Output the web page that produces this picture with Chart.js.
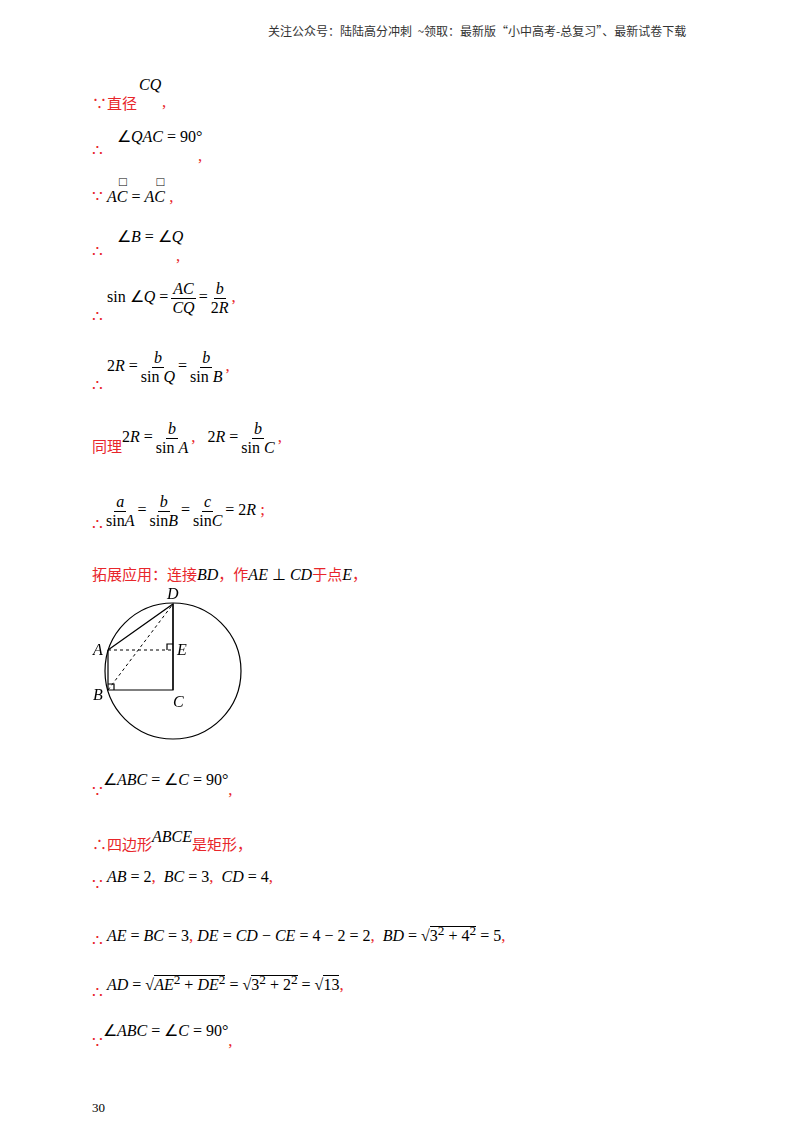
<!DOCTYPE html><html><head><meta charset="utf-8">
<script src="https://cdn.jsdelivr.net/npm/chart.js@4"></script>
<style>
body{margin:0;width:800px;height:1132px;position:relative;background:#fff;font-family:"Liberation Serif",serif;color:#000}
.a{position:absolute;white-space:nowrap;font-size:16px}
.r{color:#e8262b;font-family:"Noto Sans CJK SC";font-size:15px}
i{font-style:italic}
.f{display:inline-flex;flex-direction:column;align-items:center;vertical-align:middle;margin:0 3px}
.f span:first-child{border-bottom:1px solid #000;padding:0 2px}
.hdr{position:absolute;top:22px;left:268px;font-family:"Noto Sans CJK SC";font-size:12px;color:#333}
.t{color:#e8262b;font-size:17px}
</style></head><body>
<div class="hdr">关注公众号：陆陆高分冲刺 &nbsp;~领取：最新版“小中高考-总复习”、最新试卷下载</div>
<div class="a" style="left:92px;top:92px"><span class="r">∵直径</span></div>
<div class="a" style="left:139px;top:76px"><i>CQ</i></div><div class="a t" style="left:162px;top:92px">,</div>
<div class="a" style="left:92px;top:140px"><span class="t">∴</span></div>
<div class="a" style="left:117px;top:127px">∠<i>QAC</i> = 90°</div><div class="a t" style="left:198px;top:146px">,</div>
<div class="a" style="left:92px;top:186px"><span class="t">∵</span> <span style="position:relative"><span style="position:absolute;left:12px;top:-14px;font-size:13px">□</span><i>AC</i></span> = <span style="position:relative"><span style="position:absolute;left:12px;top:-14px;font-size:13px">□</span><i>AC</i></span><span class="t"> ,</span></div>
<div class="a" style="left:92px;top:241px"><span class="t">∴</span></div>
<div class="a" style="left:117px;top:227px">∠<i>B</i> = ∠<i>Q</i></div><div class="a t" style="left:176px;top:246px">,</div>
<div class="a" style="left:92px;top:280px"><span class="t" style="position:relative;top:20px">∴</span> sin ∠<i>Q</i> =<span class="f"><span><i>AC</i></span><span><i>CQ</i></span></span>=<span class="f"><span><i>b</i></span><span>2<i>R</i></span></span><span class="t">,</span></div>
<div class="a" style="left:92px;top:349px"><span class="t" style="position:relative;top:20px">∴</span> 2<i>R</i> =<span class="f"><span><i>b</i></span><span>sin <i>Q</i></span></span>=<span class="f"><span><i>b</i></span><span>sin <i>B</i></span></span><span class="t">,</span></div>
<div class="a" style="left:92px;top:420px"><span class="r" style="position:relative;top:10px">同理</span>2<i>R</i> =<span class="f"><span><i>b</i></span><span>sin <i>A</i></span></span><span class="t">,</span> &nbsp; 2<i>R</i> =<span class="f"><span><i>b</i></span><span>sin <i>C</i></span></span><span class="t">,</span></div>
<div class="a" style="left:92px;top:493px"><span class="t" style="position:relative;top:15px">∴</span><span class="f"><span><i>a</i></span><span>sin<i>A</i></span></span>=<span class="f"><span><i>b</i></span><span>sin<i>B</i></span></span>=<span class="f"><span><i>c</i></span><span>sin<i>C</i></span></span>= 2<i>R</i> <span class="t">;</span></div>
<div class="a" style="left:92px;top:563px"><span class="r">拓展应用：连接</span><i>BD</i><span class="r">，作</span><i>AE</i> ⊥ <i>CD</i><span class="r">于点</span><i>E</i><span class="r">，</span></div>
<canvas id="c" width="160" height="160" style="position:absolute;left:90px;top:590px;width:160px;height:160px"></canvas>
<div class="a" style="left:167px;top:585px"><i>D</i></div>
<div class="a" style="left:93px;top:641px"><i>A</i></div>
<div class="a" style="left:177px;top:641px"><i>E</i></div>
<div class="a" style="left:93px;top:686px"><i>B</i></div>
<div class="a" style="left:173px;top:693px"><i>C</i></div>
<div class="a" style="left:92px;top:769px"><span class="t" style="position:relative;top:12px">∵</span>∠<i>ABC</i> = ∠<i>C</i> = 90°<span class="t" style="position:relative;top:10px">,</span></div>
<div class="a" style="left:92px;top:825px"><span class="r" style="position:relative;top:8px">∴四边形</span><i>ABCE</i><span class="r" style="position:relative;top:8px">是矩形，</span></div>
<div class="a" style="left:92px;top:866px"><span class="t" style="position:relative;top:8px">∵</span> <i>AB</i> = 2<span class="t">,</span> &nbsp;<i>BC</i> = 3<span class="t">,</span> &nbsp;<i>CD</i> = 4<span class="t">,</span></div>
<div class="a" style="left:92px;top:923px"><span class="t" style="position:relative;top:5px">∴</span> <i>AE</i> = <i>BC</i> = 3<span class="t">,</span> <i>DE</i> = <i>CD</i> − <i>CE</i> = 4 − 2 = 2<span class="t">,</span> &nbsp;<i>BD</i> = √<span style="border-top:1px solid #000">3<sup>2</sup> + 4<sup>2</sup></span> = 5<span class="t">,</span></div>
<div class="a" style="left:92px;top:972px"><span class="t" style="position:relative;top:8px">∴</span> <i>AD</i> = √<span style="border-top:1px solid #000"><i>AE</i><sup>2</sup> + <i>DE</i><sup>2</sup></span> = √<span style="border-top:1px solid #000">3<sup>2</sup> + 2<sup>2</sup></span> = √<span style="border-top:1px solid #000">13</span><span class="t">,</span></div>
<div class="a" style="left:92px;top:1020px"><span class="t" style="position:relative;top:12px">∵</span>∠<i>ABC</i> = ∠<i>C</i> = 90°<span class="t" style="position:relative;top:10px">,</span></div>
<div class="a" style="left:92px;top:1100px;font-size:13px">30</div>
<script>
// figure points (units relative to B)
const pA=[0,40],pB=[0,0],pC=[65,0],pD=[65,86],pE=[65,40];
const circleCenter=[65,19],circleR=68;
const pt=p=>({x:p[0],y:p[1]});
const solid=(pts)=>({data:pts.map(pt),borderColor:'#000',borderWidth:1.2,pointRadius:0,pointHoverRadius:0,showLine:true,fill:false});
const dash=(pts)=>Object.assign(solid(pts),{borderDash:[3,3],borderWidth:1});
new Chart(document.getElementById('c'),{type:'scatter',data:{datasets:[
 solid([pA,pB,pC,pD,pA]),solid([pD,pC]),dash([pA,pE]),dash([pB,pD]),
 solid([[65,46],[59,46],[59,40]]),solid([[0,6],[6,6],[6,0]]),
 {data:[pt(circleCenter)],pointRadius:circleR,pointHoverRadius:circleR,backgroundColor:'rgba(0,0,0,0)',borderColor:'#000',borderWidth:1.2,clip:false}
]},options:{animation:false,responsive:false,layout:{padding:0,autoPadding:false},
plugins:{legend:{display:false},tooltip:{enabled:false}},
scales:{x:{type:'linear',display:false,min:-18,max:142,beginAtZero:false,grace:0},
        y:{type:'linear',display:false,min:-60,max:100,beginAtZero:false,grace:0}}}});
</script></body></html>
